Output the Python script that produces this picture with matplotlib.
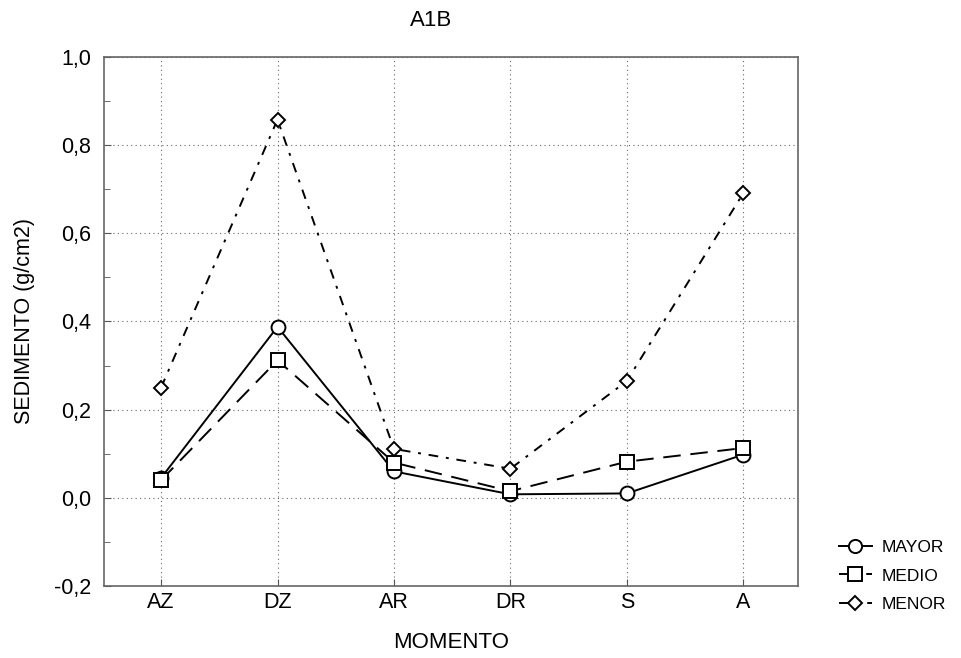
import numpy as np
import matplotlib.pyplot as plt
from matplotlib.ticker import MultipleLocator, FuncFormatter

# ------------------- DATOS -------------------
momentos = ["AZ", "DZ", "AR", "DR", "S", "A"]
mayor = [0.045, 0.388, 0.060, 0.008, 0.010, 0.098]
medio = [0.040, 0.312, 0.080, 0.015, 0.082, 0.113]
menor = [0.250, 0.858, 0.111, 0.066, 0.265, 0.691]
series_labels = ["MAYOR", "MEDIO", "MENOR"]

plt.rcParams['font.family'] = ['Liberation Sans', 'DejaVu Sans']

fig = plt.figure(figsize=(9.62, 6.58), dpi=100)
ax = fig.add_axes([104 / 962, 1 - 586 / 658, 694 / 962, 529 / 658])

x = np.arange(len(momentos))
estilos = [
    dict(linestyle='-', marker='o'),
    dict(linestyle=(0, (9, 5)), marker='s'),
    dict(linestyle=(0, (5, 4, 1.5, 4)), marker='D'),
]
sizes = [10, 10, 7.5]
handles = []
for vals, lab, st, ms in zip([mayor, medio, menor], series_labels, estilos, sizes):
    ln, = ax.plot(x, vals, color='black', linewidth=1.4, markerfacecolor='white',
                  markeredgecolor='black', markeredgewidth=1.4, markersize=ms,
                  label=lab, **st)
    handles.append(ln)

ax.set_xlim(-0.49, 5.47)
ax.set_ylim(-0.2, 1.0)
ax.set_xticks(x)
ax.set_xticklabels(momentos)
ax.yaxis.set_major_locator(MultipleLocator(0.2))
ax.yaxis.set_minor_locator(MultipleLocator(0.1))
ax.yaxis.set_major_formatter(FuncFormatter(lambda v, p: f"{v:.1f}".replace('.', ',')))
ax.tick_params(axis='both', which='both', direction='in', labelsize=15.5, color='#555555')
ax.tick_params(axis='y', which='major', length=5, pad=9)
ax.tick_params(axis='x', which='major', length=5, pad=4)
ax.tick_params(axis='y', which='minor', length=4)
ax.grid(True, which='major', linestyle=(0, (1, 3)), color='#666666', linewidth=0.8)
for s in ax.spines.values():
    s.set_color('#666666')
    s.set_linewidth(1.2)

ax.set_xlabel("MOMENTO", fontsize=16, labelpad=14)
ax.set_ylabel("SEDIMENTO (g/cm2)", fontsize=15.5, labelpad=14)
fig.text(431 / 962, 1 - 20 / 658, "A1B", ha='center', va='center', fontsize=16)

fig.legend(handles=handles, labels=series_labels, loc='upper left',
           bbox_to_anchor=(830 / 962, 1 - 531 / 658), frameon=False, fontsize=12.5,
           handlelength=1.9, handletextpad=0.6, labelspacing=0.78, borderpad=0,
           markerscale=0.95)

fig.savefig("out.png", dpi=100)
